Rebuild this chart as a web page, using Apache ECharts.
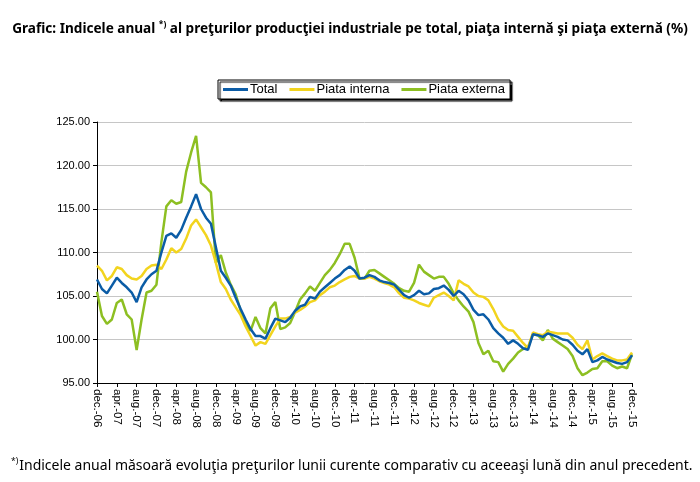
<!DOCTYPE html>
<html>
<head>
<meta charset="utf-8">
<script src="https://cdn.jsdelivr.net/npm/echarts@6/dist/echarts.min.js"></script>
<style>
  html, body { margin: 0; padding: 0; background: #fff; }
  #main { width: 700px; height: 482px; }
</style>
</head>
<body>
<div id="main"></div>
<script>
var monthNames = ['ian.', 'feb.', 'mar.', 'apr.', 'mai.', 'iun.', 'iul.', 'aug.', 'sep.', 'oct.', 'nov.', 'dec.'];
var years = ['07', '08', '09', '10', '11', '12', '13', '14', '15'];

// dec.-06 ... dec.-15
var categories = ['dec.-06'];
years.forEach(function (y) {
  monthNames.forEach(function (m) { categories.push(m + '-' + y); });
});

var total = [
  106.9, 105.8, 105.3, 106.2, 107.1, 106.5, 106.0, 105.4, 104.3, 106.0, 106.9, 107.5,
  107.9, 110.0, 111.9, 112.2, 111.7, 112.6, 114.0, 115.3, 116.7, 115.0, 114.0, 113.3,
  110.6, 107.9, 107.1, 106.2, 104.8, 103.5, 102.3, 101.2, 100.4, 100.4, 100.1, 101.3,
  102.4, 102.2, 102.0, 102.5, 103.3, 103.8, 104.0, 104.9, 104.7, 105.5, 106.0, 106.5,
  107.0, 107.4, 108.0, 108.4, 107.9, 107.0, 107.1, 107.4, 107.2, 106.8, 106.6, 106.5,
  106.3, 105.7, 105.1, 104.8, 105.1, 105.6, 105.2, 105.3, 105.8, 105.9, 106.2, 105.7,
  105.0, 105.6, 105.2, 104.5, 103.4, 102.8, 102.9, 102.3, 101.3, 100.7, 100.2, 99.5,
  99.9, 99.5, 99.0, 98.8, 100.6, 100.5, 100.3, 100.7, 100.5, 100.3, 100.0, 99.9,
  99.4, 98.7, 98.3, 98.9, 97.4, 97.6, 98.0, 97.7, 97.5, 97.3, 97.2, 97.4,
  98.2
];

var interna = [
  108.5, 107.9, 106.8, 107.3, 108.3, 108.1, 107.4, 107.0, 106.9, 107.3, 108.1, 108.5,
  108.6, 108.1, 109.2, 110.5, 110.0, 110.4, 111.6, 113.1, 113.8, 112.9, 112.0, 110.8,
  108.8, 106.6, 105.8, 104.6, 103.7, 102.8, 101.5, 100.4, 99.3, 99.7, 99.5, 100.5,
  101.5, 102.4, 102.4, 102.6, 103.1, 103.4, 103.8, 104.3, 104.5, 105.1, 105.5, 106.0,
  106.2, 106.6, 106.9, 107.2, 107.3, 107.0, 107.0, 107.2, 107.0, 106.7, 106.5, 106.3,
  106.0, 105.3, 104.8, 104.7, 104.5, 104.2, 104.0, 103.8, 104.8, 105.1, 105.4, 105.0,
  104.5, 106.8, 106.4, 106.1, 105.4, 105.0, 104.9, 104.5, 103.5, 102.3, 101.5, 101.1,
  101.0, 100.3, 99.6, 99.0, 100.8, 100.6, 100.5, 100.9, 100.8, 100.7, 100.7, 100.7,
  100.2, 99.4, 98.9, 99.9, 97.7, 98.1, 98.4, 98.1, 97.8, 97.6, 97.6, 97.7,
  98.5
];

var externa = [
  105.5, 102.7, 101.8, 102.3, 104.2, 104.6, 102.9, 102.3, 98.8, 102.3, 105.4, 105.6,
  106.3, 111.2, 115.3, 116.0, 115.6, 115.8, 119.3, 121.5, 123.4, 118.0, 117.5, 116.9,
  108.8, 109.7, 107.7, 106.3, 105.2, 103.3, 101.9, 101.0, 102.6, 101.3, 100.7, 103.6,
  104.3, 101.2, 101.4, 101.9, 103.2, 104.6, 105.3, 106.1, 105.6, 106.5, 107.4, 108.0,
  108.8, 109.8, 111.0, 111.0, 109.4, 107.0, 107.0, 107.9, 108.0, 107.6, 107.2, 106.8,
  106.4, 105.9, 105.6, 105.5, 106.5, 108.6, 107.8, 107.4, 107.0, 107.2, 107.2, 106.4,
  105.3, 104.5, 103.8, 103.2, 102.0, 99.6, 98.3, 98.7, 97.5, 97.4, 96.3, 97.2,
  97.8, 98.5, 98.9, 99.1, 100.6, 100.5, 99.9, 101.1, 100.1, 99.7, 99.3, 98.9,
  98.1, 96.7, 95.9, 96.2, 96.6, 96.7, 97.5, 97.5, 97.0, 96.7, 96.9, 96.7,
  98.3
];

var seriesNames = ['Total', 'Piata interna', 'Piata externa'];
var colors = ['#0b5ca6', '#f2d41e', '#8dbf22'];

var myChart = echarts.init(document.getElementById('main'));

var option = {
  backgroundColor: '#fff',
  animation: false,
  color: colors,
  title: [
    {
      left: 'center',
      top: 15,
      text: '{b|Grafic: Indicele anual }{sup|*)}{b| al preţurilor producţiei industriale pe total, piaţa internă şi piaţa externă (%)}',
      textStyle: {
        rich: {
          b: { fontFamily: 'Noto Sans', fontWeight: 'bold', fontSize: 13.6, color: '#000' },
          sup: { fontFamily: 'Noto Sans', fontWeight: 'bold', fontSize: 8.5, color: '#000', padding: [0, 0, 9, 0] }
        }
      }
    },
    {
      left: 6,
      top: 452,
      text: '{sup|*)}{t|Indicele anual măsoară evoluţia preţurilor lunii curente comparativ cu aceeaşi lună din anul precedent.}',
      textStyle: {
        fontWeight: 'normal',
        rich: {
          t: { fontFamily: 'Noto Sans', fontWeight: 'normal', fontSize: 14, color: '#000' },
          sup: { fontFamily: 'Noto Sans', fontWeight: 'normal', fontSize: 8.5, color: '#000', padding: [0, 1, 9, 0] }
        }
      }
    }
  ],
  legend: {
    data: seriesNames,
    left: 218,
    top: 80,
    icon: 'rect',
    itemWidth: 25,
    itemHeight: 3,
    itemGap: 12,
    padding: [3, 5, 3, 5],
    borderColor: '#000',
    borderWidth: 1,
    backgroundColor: '#fff',
    shadowColor: '#000',
    shadowBlur: 1,
    shadowOffsetX: 2,
    shadowOffsetY: 2,
    textStyle: { fontFamily: 'Liberation Sans', fontSize: 13, color: '#000', padding: [0, 0, 0, -3] }
  },
  grid: { left: 97, right: 68, top: 122, bottom: 99 },
  xAxis: {
    type: 'category',
    data: categories,
    boundaryGap: false,
    axisLine: { lineStyle: { color: '#000', width: 1 } },
    axisTick: { interval: 3, length: 4, lineStyle: { color: '#000' } },
    axisLabel: {
      interval: 3,
      rotate: -90,
      margin: 6,
      fontFamily: 'Liberation Sans',
      fontSize: 11.5,
      color: '#000'
    },
    splitLine: { show: false }
  },
  yAxis: {
    type: 'value',
    min: 95,
    max: 125,
    interval: 5,
    axisLine: { show: true, lineStyle: { color: '#000', width: 1 } },
    axisTick: { show: true, length: 4, lineStyle: { color: '#000' } },
    axisLabel: {
      margin: 7,
      fontFamily: 'Liberation Sans',
      fontSize: 11,
      color: '#000',
      formatter: function (v) { return v.toFixed(2); }
    },
    splitLine: { lineStyle: { color: '#c6c6c6', width: 1 } }
  },
  series: [
    { name: seriesNames[0], type: 'line', data: total, symbol: 'none', z: 4, lineStyle: { width: 2.5 } },
    { name: seriesNames[1], type: 'line', data: interna, symbol: 'none', z: 3, lineStyle: { width: 2.5 } },
    { name: seriesNames[2], type: 'line', data: externa, symbol: 'none', z: 2, lineStyle: { width: 2.5 } }
  ]
};

myChart.setOption(option);
window.onresize = function () { myChart.resize(); };
</script>
</body>
</html>
